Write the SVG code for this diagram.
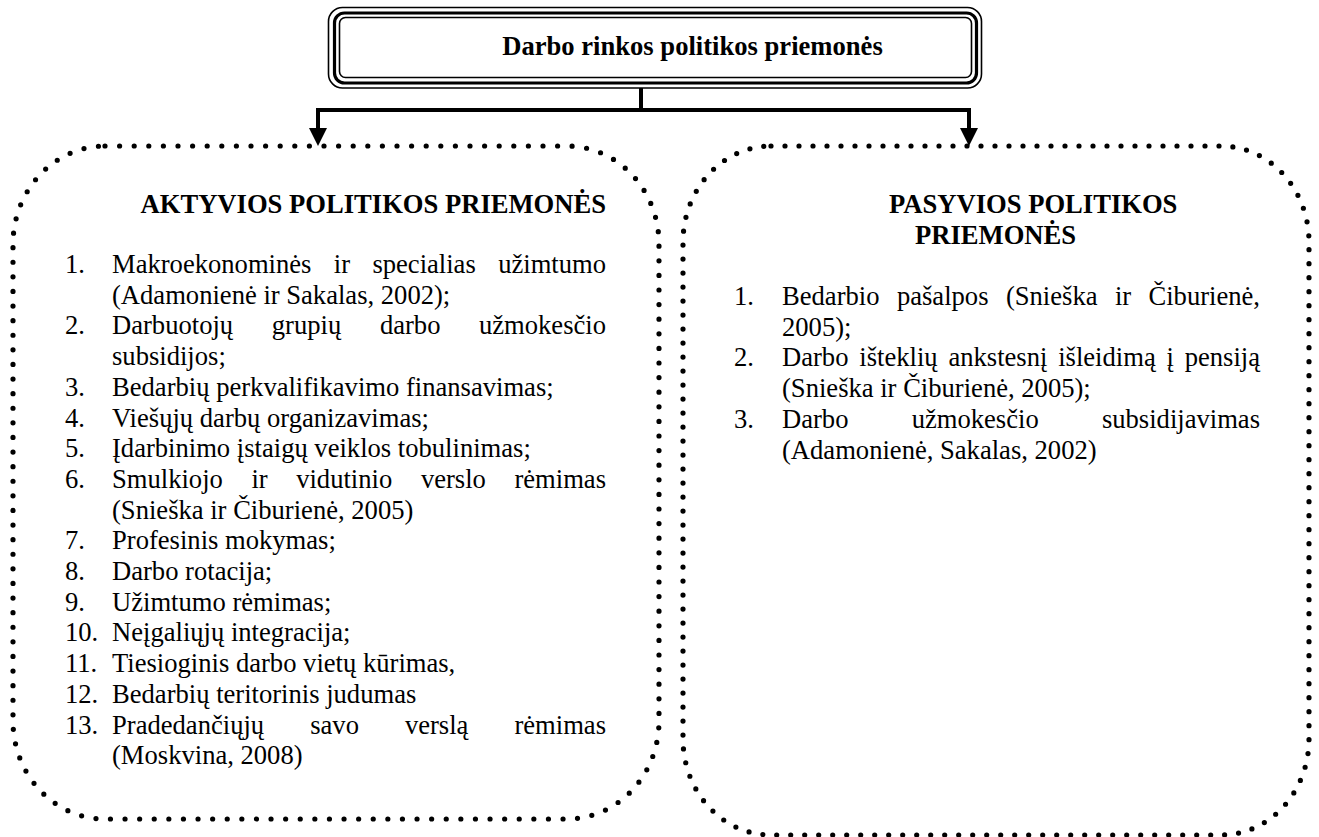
<svg xmlns="http://www.w3.org/2000/svg" width="1319" height="837" viewBox="0 0 1319 837" font-family="'Liberation Serif', 'Times New Roman', Times, serif">
<style>
 .t{font-family:'Liberation Serif','Times New Roman',Times,'DejaVu Serif',serif;font-size:26.6px;fill:#000}
 .b{font-weight:bold}
 .e{text-anchor:end}
 .dot{fill:none;stroke:#000;stroke-width:5.2;stroke-linecap:round;stroke-dasharray:0 14.6}
 .ln{fill:none;stroke:#000;stroke-width:4}
</style>
<rect width="1319" height="837" fill="#fff"/>
<g id="title">
 <rect x="328.5" y="7.5" width="653" height="80.5" rx="14" fill="#fff" stroke="#000" stroke-width="1.6"/>
 <rect x="334.5" y="13" width="642" height="70" rx="10" fill="none" stroke="#000" stroke-width="3.2"/>
 <rect x="339.5" y="17.5" width="632" height="60" rx="6" fill="none" stroke="#000" stroke-width="1.6"/>
 <text class="t b" x="692.5" y="55" text-anchor="middle">Darbo rinkos politikos priemonės</text>
</g>
<g id="connectors">
 <path class="ln" d="M641 88 V110 M316 110 H971 M318 108 V130 M969 108 V130"/>
 <path d="M309 128 H327 L318 146 Z M960 128 H978 L969 146 Z" fill="#000"/>
</g>
<g id="active">
 <rect class="dot" x="13" y="146" width="646" height="673" rx="92" ry="98"/>
 <text class="t b e" x="606" y="213">AKTYVIOS POLITIKOS PRIEMONĖS</text>
 <text class="t" x="65" y="273">1.</text>
 <text class="t" y="273"><tspan x="112">Makroekonominės</tspan><tspan x="333.8">ir</tspan><tspan x="372.4">specialias</tspan><tspan x="606" text-anchor="end">užimtumo</tspan></text>
 <text class="t" x="112" y="303.7">(Adamonienė ir Sakalas, 2002);</text>
 <text class="t" x="65" y="334.4">2.</text>
 <text class="t" y="334.4"><tspan x="112">Darbuotojų</tspan><tspan x="271.8">grupių</tspan><tspan x="379.9">darbo</tspan><tspan x="606" text-anchor="end">užmokesčio</tspan></text>
 <text class="t" x="112" y="365.1">subsidijos;</text>
 <text class="t" x="65" y="395.8">3.</text>
 <text class="t" x="112" y="395.8">Bedarbių perkvalifikavimo finansavimas;</text>
 <text class="t" x="65" y="426.5">4.</text>
 <text class="t" x="112" y="426.5">Viešųjų darbų organizavimas;</text>
 <text class="t" x="65" y="457.2">5.</text>
 <text class="t" x="112" y="457.2">Įdarbinimo įstaigų veiklos tobulinimas;</text>
 <text class="t" x="65" y="487.9">6.</text>
 <text class="t" y="487.9"><tspan x="112">Smulkiojo</tspan><tspan x="251.4">ir</tspan><tspan x="296.2">vidutinio</tspan><tspan x="420.9">verslo</tspan><tspan x="606" text-anchor="end">rėmimas</tspan></text>
 <text class="t" x="112" y="518.6">(Snieška ir Čiburienė, 2005)</text>
 <text class="t" x="65" y="549.3">7.</text>
 <text class="t" x="112" y="549.3">Profesinis mokymas;</text>
 <text class="t" x="65" y="580">8.</text>
 <text class="t" x="112" y="580">Darbo rotacija;</text>
 <text class="t" x="65" y="610.7">9.</text>
 <text class="t" x="112" y="610.7">Užimtumo rėmimas;</text>
 <text class="t" x="65" y="641.4">10.</text>
 <text class="t" x="112" y="641.4">Neįgaliųjų integracija;</text>
 <text class="t" x="65" y="672.1">11.</text>
 <text class="t" x="112" y="672.1">Tiesioginis darbo vietų kūrimas,</text>
 <text class="t" x="65" y="702.8">12.</text>
 <text class="t" x="112" y="702.8">Bedarbių teritorinis judumas</text>
 <text class="t" x="65" y="733.5">13.</text>
 <text class="t" y="733.5"><tspan x="112">Pradedančiųjų</tspan><tspan x="310.2">savo</tspan><tspan x="404.9">verslą</tspan><tspan x="606" text-anchor="end">rėmimas</tspan></text>
 <text class="t" x="112" y="764.2">(Moskvina, 2008)</text>
</g>
<g id="passive">
 <rect class="dot" x="683" y="146" width="626" height="689" rx="88" ry="96" style="stroke-dasharray:0 14"/>
 <text class="t b" x="889" y="213">PASYVIOS POLITIKOS</text>
 <text class="t b" x="915" y="243.7">PRIEMONĖS</text>
 <text class="t" x="734" y="305">1.</text>
 <text class="t" y="305"><tspan x="782">Bedarbio</tspan><tspan x="896.9">pašalpos</tspan><tspan x="1005.9">(Snieška</tspan><tspan x="1114.9">ir</tspan><tspan x="1260" text-anchor="end">Čiburienė,</tspan></text>
 <text class="t" x="782" y="335.7">2005);</text>
 <text class="t" x="734" y="366.4">2.</text>
 <text class="t" y="366.4"><tspan x="782">Darbo</tspan><tspan x="859.3">išteklių</tspan><tspan x="948.4">ankstesnį</tspan><tspan x="1058.2">išleidimą</tspan><tspan x="1166.5">į</tspan><tspan x="1260" text-anchor="end">pensiją</tspan></text>
 <text class="t" x="782" y="397.1">(Snieška ir Čiburienė, 2005);</text>
 <text class="t" x="734" y="427.8">3.</text>
 <text class="t" y="427.8"><tspan x="782">Darbo</tspan><tspan x="911.7">užmokesčio</tspan><tspan x="1260" text-anchor="end">subsidijavimas</tspan></text>
 <text class="t" x="782" y="458.5">(Adamonienė, Sakalas, 2002)</text>
</g>
</svg>
